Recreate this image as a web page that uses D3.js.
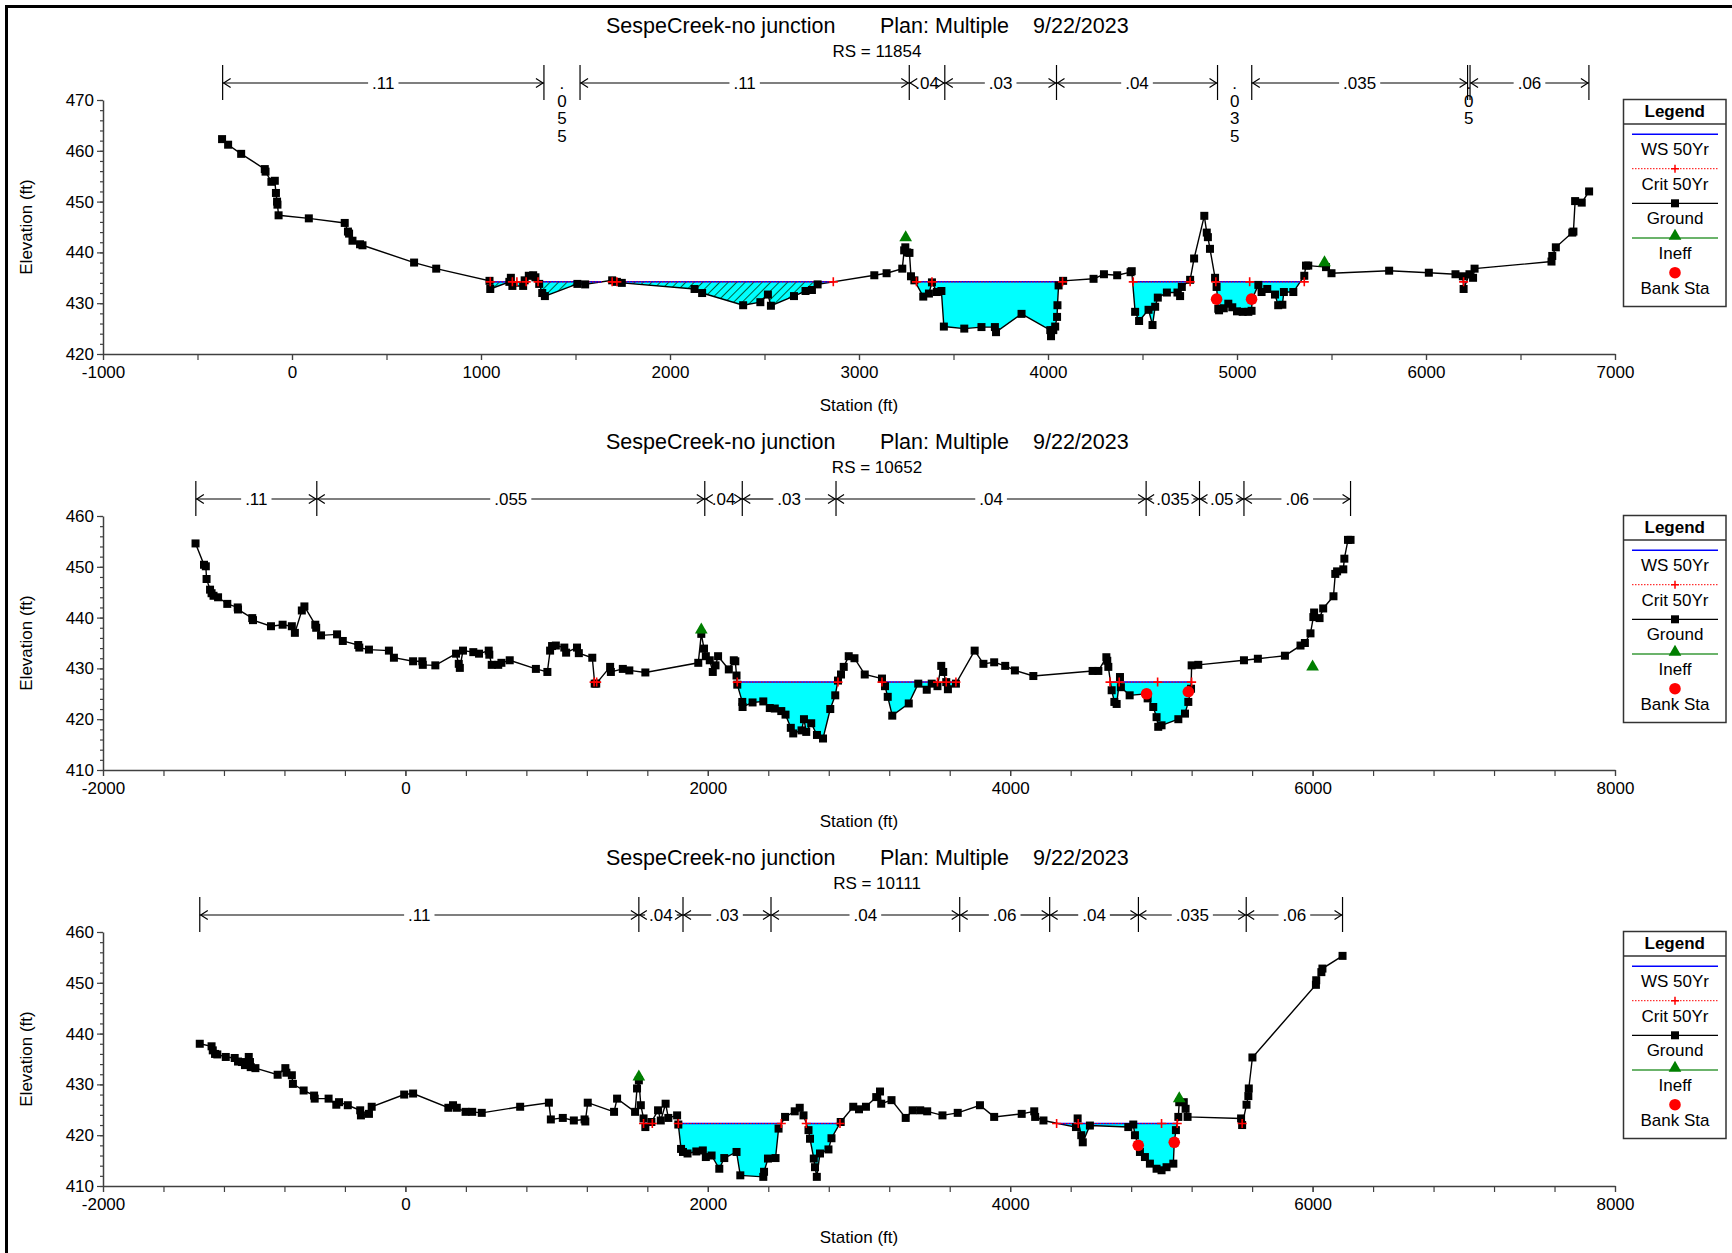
<!DOCTYPE html>
<html>
<head>
<meta charset="utf-8">
<script src="https://cdn.jsdelivr.net/npm/d3@7"></script>
<style>
  body { margin: 0; background: #fff; }
  svg text { font-family: "Liberation Sans", Arial, Helvetica, sans-serif; fill: #000; }
</style>
</head>
<body>
<svg id="chart" width="1732" height="1253"></svg>
<script>
// ---------------------------------------------------------------
// Cross-section data: [station (ft), elevation (ft)]
// ---------------------------------------------------------------
const groundRS11854 = [
  [-370,462.3],[-338,461.2],[-269,459.4],[-144,456.4],[-140,455.9],[-109,453.9],[-91,454.1],[-85,451.7],[-79,450.0],[-77,449.4],
  [-71,447.3],[89,446.7],[279,445.8],[296,444.1],[302,443.7],[320,442.3],[360,441.6],[373,441.4],[646,438.0],[763,436.8],
  [1045,434.4],[1049,432.8],[1150,434.2],[1158,435.0],[1166,433.4],[1223,433.4],[1231,434.5],[1253,435.4],[1276,435.5],[1288,435.1],
  [1308,433.8],[1324,432.0],[1338,431.4],[1510,433.8],[1551,433.7],[1694,434.5],[1719,434.2],[1745,434.0],[2130,432.8],[2170,432.0],
  [2387,429.6],[2478,430.2],[2518,431.7],[2534,429.5],[2656,431.4],[2717,432.4],[2751,432.6],[2781,433.7],[3081,435.5],[3146,435.9],
  [3229,436.8],[3239,440.4],[3245,441.0],[3255,440.0],[3267,439.9],[3275,435.3],[3293,434.5],[3340,431.3],[3370,431.9],[3386,434.1],
  [3412,432.2],[3436,432.4],[3449,425.4],[3557,425.0],[3648,425.3],[3719,425.3],[3725,424.3],[3860,427.9],[4012,424.7],[4016,423.5],
  [4028,424.7],[4038,425.4],[4048,427.3],[4050,429.6],[4056,433.5],[4080,434.4],[4241,434.8],[4296,435.7],[4366,435.5],[4437,436.1],
  [4443,436.3],[4461,428.3],[4482,426.5],[4532,428.7],[4553,425.7],[4567,429.3],[4581,431.1],[4629,432.1],[4685,432.1],[4699,431.4],
  [4708,433.2],[4752,434.6],[4773,438.8],[4827,447.2],[4840,443.9],[4846,443.0],[4857,440.7],[4884,435.0],[4892,433.2],[4901,428.9],
  [4905,428.6],[4930,429.0],[4954,429.9],[4975,429.2],[5000,428.4],[5030,428.3],[5060,428.3],[5077,428.5],[5080,430.8],[5113,433.6],
  [5130,432.2],[5160,432.8],[5201,431.7],[5218,429.6],[5240,429.7],[5248,432.2],[5298,432.2],[5356,435.4],[5365,437.4],[5377,437.4],
  [5471,437.1],[5500,435.9],[5805,436.4],[6015,436.0],[6156,435.7],[6195,435.3],[6199,432.8],[6230,435.7],[6249,435.0],[6257,436.8],
  [6664,438.2],[6668,439.3],[6687,441.0],[6774,443.9],[6780,444.1],[6789,450.1],[6824,449.8],[6863,452.0]
];
const groundRS10652 = [
  [-1388,454.6],[-1332,450.4],[-1320,450.1],[-1315,447.6],[-1292,445.5],[-1282,444.8],[-1269,444.3],[-1239,444.0],[-1178,442.7],[-1109,442.0],
  [-1107,441.6],[-1013,439.9],[-1008,439.5],[-889,438.3],[-812,438.6],[-751,438.3],[-731,437.0],[-685,441.4],[-668,442.2],[-596,438.6],
  [-590,438.0],[-558,436.5],[-452,436.7],[-414,435.4],[-312,434.6],[-305,434.1],[-241,433.7],[-109,433.5],[-76,432.1],[51,431.4],
  [112,431.4],[115,430.7],[198,430.6],[335,432.9],[353,430.9],[360,430.1],[381,433.5],[449,433.2],[487,432.9],[551,433.5],
  [555,432.7],[571,430.7],[614,430.7],[635,431.1],[690,431.6],[863,429.9],[939,429.3],[957,433.5],[970,434.4],[995,434.5],
  [1051,434.1],[1063,433.1],[1135,434.1],[1147,433.0],[1236,432.1],[1252,427.0],[1262,427.0],[1354,430.3],[1359,429.3],[1438,429.9],
  [1481,429.6],[1587,429.2],[1937,431.1],[1957,436.8],[1975,433.9],[1987,432.4],[2013,431.6],[2033,429.3],[2051,430.6],[2068,432.4],
  [2139,429.8],[2172,431.6],[2182,431.4],[2190,428.6],[2195,426.8],[2228,423.4],[2230,422.4],[2296,423.3],[2367,423.5],[2410,422.2],
  [2443,422.1],[2486,421.6],[2514,420.9],[2549,418.3],[2565,417.2],[2620,417.8],[2636,420.0],[2651,417.5],[2684,419.2],[2722,416.9],
  [2762,416.2],[2810,422.0],[2843,424.7],[2861,427.6],[2881,428.8],[2899,430.3],[2932,432.4],[2970,432.0],[3038,428.8],[3152,428.0],
  [3172,426.5],[3190,424.4],[3220,420.7],[3329,423.1],[3392,427.0],[3448,425.8],[3481,427.0],[3519,426.5],[3544,430.5],[3557,429.3],
  [3577,427.3],[3588,425.9],[3641,427.0],[3765,433.5],[3823,430.9],[3894,431.2],[3967,430.5],[4031,429.6],[4153,428.5],[4545,429.5],
  [4583,429.5],[4636,432.2],[4642,431.5],[4649,430.3],[4671,425.7],[4689,423.4],[4704,423.0],[4726,428.3],[4732,426.3],[4790,424.7],
  [4902,425.0],[4909,424.1],[4946,422.4],[4968,420.4],[4979,418.5],[5001,418.8],[5112,420.0],[5156,421.1],[5178,423.4],[5196,426.0],
  [5200,430.6],[5244,430.7],[5546,431.6],[5638,431.9],[5817,432.5],[5920,434.5],[5949,435.0],[5986,436.9],[6005,440.1],[6010,441.0],
  [6046,439.9],[6070,441.8],[6138,444.2],[6150,448.6],[6162,449.1],[6203,449.5],[6210,451.6],[6234,455.3],[6251,455.3]
];
const groundRS10111 = [
  [-1360,438.0],[-1282,437.5],[-1274,436.7],[-1259,436.0],[-1244,435.9],[-1188,435.4],[-1129,435.2],[-1107,434.5],[-1081,434.4],[-1061,433.8],
  [-1036,435.4],[-1028,434.4],[-1023,433.4],[-992,433.2],[-845,431.9],[-794,433.2],[-787,432.3],[-751,431.8],[-744,430.1],[-673,428.8],
  [-604,427.8],[-600,427.2],[-508,427.2],[-457,426.0],[-439,426.5],[-381,425.9],[-299,424.9],[-294,423.9],[-241,424.2],[-223,425.6],
  [-8,428.0],[51,428.2],[284,425.4],[315,425.9],[340,425.4],[398,424.6],[442,424.6],[505,424.4],[759,425.6],[949,426.4],
  [962,423.1],[1041,423.4],[1114,422.9],[1185,423.1],[1190,422.7],[1206,426.4],[1380,424.6],[1400,427.2],[1519,424.6],[1532,429.2],
  [1544,430.8],[1557,425.9],[1575,423.3],[1587,421.6],[1627,422.6],[1671,424.9],[1689,422.9],[1721,426.2],[1739,423.4],[1797,423.9],
  [1805,422.1],[1823,417.3],[1836,416.7],[1866,416.4],[1924,416.8],[1967,417.0],[1987,415.7],[2025,416.0],[2076,413.4],[2109,415.5],
  [2190,416.7],[2215,412.1],[2367,411.8],[2372,412.8],[2398,415.4],[2448,415.5],[2468,421.3],[2511,423.6],[2575,424.7],[2608,425.4],
  [2633,423.9],[2666,421.0],[2676,419.3],[2701,415.4],[2709,413.7],[2721,411.8],[2742,416.4],[2798,417.2],[2818,419.4],[2879,422.6],
  [2962,425.6],[3000,425.1],[3046,425.6],[3114,427.5],[3139,428.6],[3147,426.2],[3215,426.9],[3309,423.4],[3355,424.9],[3405,424.9],
  [3451,424.7],[3552,423.9],[3653,424.4],[3800,425.9],[3894,423.6],[4076,424.2],[4159,424.7],[4165,423.6],[4220,422.9],[4435,421.6],
  [4446,423.3],[4470,420.0],[4480,418.6],[4527,421.9],[4781,421.6],[4814,422.1],[4825,420.0],[4847,418.0],[4858,416.7],[4891,415.7],
  [4924,414.4],[4968,413.4],[5001,413.1],[5034,413.7],[5079,414.4],[5085,418.6],[5096,421.0],[5112,423.6],[5118,426.5],[5148,426.5],
  [5160,425.2],[5173,423.6],[5527,423.3],[5534,422.0],[5563,426.0],[5575,427.7],[5578,429.2],[5602,435.3],[6022,449.6],[6024,450.5],
  [6058,452.1],[6065,452.8],[6198,455.3]
];

// Water surface and critical elevations (50-yr profile)
const wsRS11854 = 434.2, critRS11854 = 434.2;
const wsRS10652 = 427.3, critRS10652 = 427.3;
const wsRS10111 = 422.3, critRS10111 = 422.3;

// Stations where the critical-depth line is marked
const critStaRS11854 = [1049,1166,1190,1239,1302,1694,1719,2864,3304,3386,4077,4451,4752,4888,5067,5356,6199];
const critStaRS10652 = [1248,1265,2195,2861,3152,3519,3577,3641,4660,4721,4975,5200];
const critStaRS10111 = [1575,1633,1805,2486,2651,2874,4307,4450,5001,5105,5534];

// Bank stations [station, elevation]
const bankRS11854 = [[4892,430.8],[5077,430.8]];
const bankRS10652 = [[4902,425.0],[5178,425.4]];
const bankRS10111 = [[4847,418.0],[5085,418.6]];

// Ineffective flow limits [station, elevation]
const ineffRS11854 = [[3247,442.9],[5463,438.0]];
const ineffRS10652 = [[1957,437.6],[6000,430.3]];
const ineffRS10111 = [[1544,431.5],[5118,427.2]];

// Manning's n breaks and values
const nStaRS11854 = [-367,1333,1524,3266,3454,4045,4897,5078,6220,6233,6862];
const nValRS11854 = [".11",".055",".11",".04",".03",".04",".035",".035",".05",".06"];
const nStaRS10652 = [-1386,-586,1980,2228,2848,4899,5252,5546,6251];
const nValRS10652 = [".11",".055",".04",".03",".04",".035",".05",".06"];
const nStaRS10111 = [-1360,1544,1836,2418,3666,4261,4848,5561,6198];
const nValRS10111 = [".11",".04",".03",".04",".06",".04",".035",".06"];

// Axis ticks
const xMajorTop = [-1000,0,1000,2000,3000,4000,5000,6000,7000];
const xMinorTop = d3.range(-1000, 7001, 500);
const xMajorLow = [-2000,0,2000,4000,6000,8000];
const xMinorLow = d3.range(-2000, 8001, 400);
const yMajorTop = [420,430,440,450,460,470];
const yMinorTop = d3.range(420, 470.1, 2);
const yMajorLow = [410,420,430,440,450,460];
const yMinorLow = d3.range(410, 460.1, 2);

const titleParts = ["SespeCreek-no junction", "Plan: Multiple", "9/22/2023"];
const legendLabels = ["WS 50Yr", "Crit 50Yr", "Ground", "Ineff", "Bank Sta"];

// ---------------------------------------------------------------
// Layout
// ---------------------------------------------------------------
const PANEL_STEP = 416;
const PLOT = { left: 103, right: 1615, top: 100, bottom: 354 };
const AXIS_COLOR = "#404040";
const WATER = "#00ffff";
const SQ = 8;

const panels = [
  { rs: "11854", ground: groundRS11854, ws: wsRS11854, crit: critRS11854, critSta: critStaRS11854,
    banks: bankRS11854, ineff: ineffRS11854, nSta: nStaRS11854, nVal: nValRS11854,
    xDomain: [-1000, 7000], xMajor: xMajorTop, xMinor: xMinorTop,
    yDomain: [420, 470], yMajor: yMajorTop, yMinor: yMinorTop },
  { rs: "10652", ground: groundRS10652, ws: wsRS10652, crit: critRS10652, critSta: critStaRS10652,
    banks: bankRS10652, ineff: ineffRS10652, nSta: nStaRS10652, nVal: nValRS10652,
    xDomain: [-2000, 8000], xMajor: xMajorLow, xMinor: xMinorLow,
    yDomain: [410, 460], yMajor: yMajorLow, yMinor: yMinorLow },
  { rs: "10111", ground: groundRS10111, ws: wsRS10111, crit: critRS10111, critSta: critStaRS10111,
    banks: bankRS10111, ineff: ineffRS10111, nSta: nStaRS10111, nVal: nValRS10111,
    xDomain: [-2000, 8000], xMajor: xMajorLow, xMinor: xMinorLow,
    yDomain: [410, 460], yMajor: yMajorLow, yMinor: yMinorLow }
];

const svg = d3.select("#chart");

// hatch used for water in ineffective-flow areas
const defs = svg.append("defs");
const hatch = defs.append("pattern")
  .attr("id", "ineffHatch")
  .attr("patternUnits", "userSpaceOnUse")
  .attr("width", 6).attr("height", 6)
  .attr("patternTransform", "rotate(45)");
hatch.append("rect").attr("width", 6).attr("height", 6).attr("fill", WATER);
hatch.append("line").attr("x1", 0).attr("y1", 0).attr("x2", 0).attr("y2", 6)
  .attr("stroke", "#006040").attr("stroke-width", 2);

// outer frame
svg.append("rect")
  .attr("x", 6.5).attr("y", 6.5).attr("width", 1800).attr("height", 1300)
  .attr("fill", "none").attr("stroke", "#000").attr("stroke-width", 3);

// helper to measure text width
const measurer = svg.append("text").attr("font-size", 17).attr("visibility", "hidden");
function textWidth(s) { measurer.text(s); return measurer.node().getComputedTextLength(); }

// split the ground profile into wetted runs under a water level
function wetRuns(ground, ws) {
  const runs = [];
  let cur = null;
  for (let i = 0; i < ground.length; i++) {
    const [s, e] = ground[i];
    if (e < ws) {
      if (!cur) {
        let x0 = s;
        if (i > 0) {
          const [ps, pe] = ground[i - 1];
          x0 = ps + (ws - pe) / (e - pe) * (s - ps);
        }
        cur = [[x0, ws]];
      }
      cur.push([s, e]);
    } else if (cur) {
      const [ps, pe] = ground[i - 1];
      const x1 = ps + (ws - pe) / (e - pe) * (s - ps);
      cur.push([x1, ws]);
      runs.push(cur);
      cur = null;
    }
  }
  if (cur) { cur.push([ground[ground.length - 1][0], ws]); runs.push(cur); }
  return runs;
}

panels.forEach((p, idx) => {
  const g = svg.append("g").attr("transform", `translate(0,${idx * PANEL_STEP})`);
  const x = d3.scaleLinear().domain(p.xDomain).range([PLOT.left, PLOT.right]);
  const y = d3.scaleLinear().domain(p.yDomain).range([PLOT.bottom, PLOT.top]);

  // titles
  const tx = [606, 880, 1033];
  titleParts.forEach((t, k) => {
    g.append("text").attr("x", tx[k]).attr("y", 33).attr("font-size", 21.5).text(t);
  });
  g.append("text").attr("x", 877).attr("y", 57).attr("font-size", 17)
    .attr("text-anchor", "middle").text(`RS = ${p.rs}`);

  // Manning's n annotation
  const lineY = 83, barTop = 65;
  const ng = g.append("g").attr("stroke", "#000").attr("stroke-width", 1.2).attr("fill", "none");
  p.nSta.forEach(s => {
    ng.append("line").attr("x1", x(s)).attr("x2", x(s)).attr("y1", barTop).attr("y2", PLOT.top);
  });
  p.nVal.forEach((label, i) => {
    const a = x(p.nSta[i]), b = x(p.nSta[i + 1]), cx = (a + b) / 2;
    const tw = textWidth(label);
    if (tw + 6 > b - a) {
      label.split("").forEach((ch, k) => {
        g.append("text").attr("x", cx).attr("y", lineY + 6 + k * 17.6)
          .attr("font-size", 17).attr("text-anchor", "middle").text(ch);
      });
    } else {
      ng.append("path").attr("d", `M${a + 8},${lineY - 4.5}L${a + 1},${lineY}L${a + 8},${lineY + 4.5}`);
      ng.append("path").attr("d", `M${b - 8},${lineY - 4.5}L${b - 1},${lineY}L${b - 8},${lineY + 4.5}`);
      const l1 = cx - tw / 2 - 4, r1 = cx + tw / 2 + 4;
      if (l1 > a + 1) ng.append("line").attr("x1", a).attr("x2", l1).attr("y1", lineY).attr("y2", lineY);
      if (r1 < b - 1) ng.append("line").attr("x1", r1).attr("x2", b).attr("y1", lineY).attr("y2", lineY);
      g.append("text").attr("x", cx).attr("y", lineY + 6).attr("font-size", 17)
        .attr("text-anchor", "middle").text(label);
    }
  });

  // water fill
  const runs = wetRuns(p.ground, p.ws);
  const area = d3.line().x(d => x(d[0])).y(d => y(d[1]));
  const leftIneff = p.ineff[0][0], rightIneff = p.ineff[1][0];
  runs.forEach(run => {
    const mid = (run[0][0] + run[run.length - 1][0]) / 2;
    const ineffective = mid < leftIneff || mid > rightIneff;
    g.append("path").attr("d", area(run) + "Z")
      .attr("fill", ineffective ? "url(#ineffHatch)" : WATER).attr("stroke", "none");
  });

  // axes
  const gxMinor = g.append("g").attr("transform", `translate(0,${PLOT.bottom})`)
    .call(d3.axisBottom(x).tickValues(p.xMinor).tickSize(6).tickSizeOuter(0).tickFormat(""));
  const gx = g.append("g").attr("transform", `translate(0,${PLOT.bottom})`)
    .call(d3.axisBottom(x).tickValues(p.xMajor).tickSize(6).tickSizeOuter(0).tickPadding(6).tickFormat(d => String(d)));
  const gyMinor = g.append("g").attr("transform", `translate(${PLOT.left},0)`)
    .call(d3.axisLeft(y).tickValues(p.yMinor).tickSize(3).tickSizeOuter(0).tickFormat(""));
  const gy = g.append("g").attr("transform", `translate(${PLOT.left},0)`)
    .call(d3.axisLeft(y).tickValues(p.yMajor).tickSize(6).tickSizeOuter(0).tickPadding(3).tickFormat(d => String(d)));
  [gxMinor, gx, gyMinor, gy].forEach(ax => {
    ax.selectAll("path.domain").attr("stroke", AXIS_COLOR).attr("stroke-width", 1.5);
    ax.selectAll(".tick line").attr("stroke", AXIS_COLOR).attr("stroke-width", 1.2);
    ax.selectAll(".tick text").attr("font-size", 17).attr("fill", "#000")
      .style("font-family", '"Liberation Sans", Arial, sans-serif');
  });
  gxMinor.select("path.domain").remove();
  gyMinor.select("path.domain").remove();

  // axis titles
  g.append("text").attr("x", (PLOT.left + PLOT.right) / 2).attr("y", 411)
    .attr("font-size", 17).attr("text-anchor", "middle").text("Station (ft)");
  g.append("text").attr("transform", `translate(31.5,${(PLOT.top + PLOT.bottom) / 2}) rotate(-90)`)
    .attr("font-size", 17).attr("text-anchor", "middle").text("Elevation (ft)");

  // ground line
  g.append("path").datum(p.ground)
    .attr("d", d3.line().x(d => x(d[0])).y(d => y(d[1])))
    .attr("fill", "none").attr("stroke", "#000").attr("stroke-width", 1.4);

  // water surface and critical lines over wetted runs
  runs.forEach(run => {
    const x0 = x(run[0][0]), x1 = x(run[run.length - 1][0]);
    g.append("line").attr("x1", x0).attr("x2", x1).attr("y1", y(p.ws)).attr("y2", y(p.ws))
      .attr("stroke", "#0000ff").attr("stroke-width", 1.5);
    g.append("line").attr("x1", x0).attr("x2", x1).attr("y1", y(p.crit)).attr("y2", y(p.crit))
      .attr("stroke", "#ff0000").attr("stroke-width", 1).attr("stroke-dasharray", "1.5,1.5");
  });

  // ground points
  g.append("g").selectAll("rect").data(p.ground).join("rect")
    .attr("x", d => x(d[0]) - SQ / 2).attr("y", d => y(d[1]) - SQ / 2)
    .attr("width", SQ).attr("height", SQ).attr("fill", "#000");

  // critical markers
  g.append("g").selectAll("path").data(p.critSta).join("path")
    .attr("d", d => `M${x(d) - 4.5},${y(p.crit)}H${x(d) + 4.5}M${x(d)},${y(p.crit) - 4.5}V${y(p.crit) + 4.5}`)
    .attr("stroke", "#ff0000").attr("stroke-width", 1.6).attr("fill", "none");

  // ineffective flow markers
  g.append("g").selectAll("path").data(p.ineff).join("path")
    .attr("transform", d => `translate(${x(d[0])},${y(d[1])})`)
    .attr("d", d3.symbol().type(d3.symbolTriangle).size(70))
    .attr("fill", "#007f00");

  // bank stations
  g.append("g").selectAll("circle").data(p.banks).join("circle")
    .attr("cx", d => x(d[0])).attr("cy", d => y(d[1])).attr("r", 5.8).attr("fill", "#ff0000");

  // legend
  const lg = g.append("g");
  const lx = 1623.5, ly = 99.5, lw = 102.5, lh = 207;
  lg.append("rect").attr("x", lx).attr("y", ly).attr("width", lw).attr("height", lh)
    .attr("fill", "#fff").attr("stroke", "#333").attr("stroke-width", 1.5);
  lg.append("text").attr("x", lx + lw / 2).attr("y", 116.5).attr("font-size", 17)
    .attr("font-weight", "bold").attr("text-anchor", "middle").text("Legend");
  lg.append("line").attr("x1", lx).attr("x2", lx + lw).attr("y1", 124).attr("y2", 124)
    .attr("stroke", "#333").attr("stroke-width", 1.5);
  const lx0 = 1632, lx1 = 1718, lcx = (lx0 + lx1) / 2;
  const rowY = [134.3, 168.7, 203.3, 238, 272.7];
  legendLabels.forEach((lab, k) => {
    lg.append("text").attr("x", lcx).attr("y", rowY[k] + 21).attr("font-size", 17)
      .attr("text-anchor", "middle").text(lab);
  });
  lg.append("line").attr("x1", lx0).attr("x2", lx1).attr("y1", rowY[0]).attr("y2", rowY[0])
    .attr("stroke", "#0000ff").attr("stroke-width", 1.5);
  lg.append("line").attr("x1", lx0).attr("x2", lx1).attr("y1", rowY[1]).attr("y2", rowY[1])
    .attr("stroke", "#ff0000").attr("stroke-width", 1).attr("stroke-dasharray", "1.5,1.5");
  lg.append("path").attr("d", `M${lcx - 4},${rowY[1]}H${lcx + 4}M${lcx},${rowY[1] - 4}V${rowY[1] + 4}`)
    .attr("stroke", "#ff0000").attr("stroke-width", 1.5);
  lg.append("line").attr("x1", lx0).attr("x2", lx1).attr("y1", rowY[2]).attr("y2", rowY[2])
    .attr("stroke", "#000").attr("stroke-width", 1.3);
  lg.append("rect").attr("x", lcx - SQ / 2).attr("y", rowY[2] - SQ / 2).attr("width", SQ).attr("height", SQ).attr("fill", "#000");
  lg.append("line").attr("x1", lx0).attr("x2", lx1).attr("y1", rowY[3]).attr("y2", rowY[3])
    .attr("stroke", "#3a9a3a").attr("stroke-width", 1.6);
  lg.append("path").attr("transform", `translate(${lcx},${rowY[3] - 2})`)
    .attr("d", d3.symbol().type(d3.symbolTriangle).size(70)).attr("fill", "#007f00");
  lg.append("circle").attr("cx", lcx).attr("cy", rowY[4]).attr("r", 5.8).attr("fill", "#ff0000");
});

measurer.remove();
</script>
</body>
</html>
